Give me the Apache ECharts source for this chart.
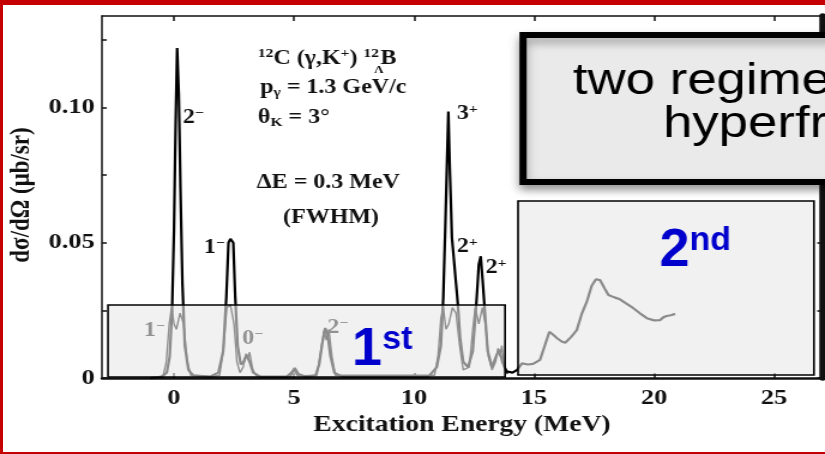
<!DOCTYPE html>
<html>
<head>
<meta charset="utf-8">
<script src="https://cdn.jsdelivr.net/npm/echarts@6/dist/echarts.min.js"></script>
<style>
  html, body { margin: 0; padding: 0; background: #fff; overflow: hidden; }
  /* the spectrum figure is shown stretched horizontally on the slide */
  #chart { position: absolute; left: 0; top: 0; width: 688px; height: 454px; transform: scaleX(1.19913); transform-origin: 0 0; }
  #frame { position: absolute; left: 0; top: 0; width: 825px; height: 454px; box-sizing: border-box;
           border-top: 5px solid #c40000; border-left: 3px solid #c40000; border-bottom: 2px solid #c40000;
           pointer-events: none; }
</style>
</head>
<body>
<div id="chart"></div>
<div id="frame"></div>
<script>
// horizontal stretch of the figure; the blue region tags undo it
const SX = 825 / 688;

// axis ticks
const energyTicks = [0, 5, 10, 15, 20, 25];
const sigmaTicks = [0, 0.025, 0.05, 0.075, 0.1, 0.125];
const sigmaLabels = [0, 0.05, 0.1];

// 12C(gamma,K+)12_Lambda B, dE = 0.3 MeV (FWHM): total spectrum
const totalEnergy = [
  -1.0, -0.5, -0.3, -0.18, -0.08, 0.0, 0.07, 0.13, 0.2, 0.27, 0.35, 0.45, 0.6, 0.8,
  1.5, 1.85, 2.05, 2.18, 2.27, 2.35, 2.47, 2.55, 2.65, 2.78, 2.9, 3.02, 3.15, 3.3, 3.6,
  4.7, 4.9, 5.03, 5.18, 5.5, 5.9, 6.05, 6.18, 6.3, 6.4, 6.52, 6.68, 7.0,
  10.6, 10.95, 11.12, 11.22, 11.3, 11.43, 11.5, 11.58, 11.66, 11.74, 11.82, 11.92, 12.05,
  12.25, 12.45, 12.6, 12.7, 12.78, 12.86, 12.95, 13.07, 13.25, 13.42, 13.55, 13.68, 13.85,
  14.1, 14.3, 14.5, 14.75, 14.96, 15.25, 15.45, 15.64, 15.8, 15.95, 16.15, 16.3, 16.55,
  16.78, 17.0, 17.2, 17.4, 17.58, 17.75, 17.95, 18.1, 18.35, 18.58, 18.85, 19.14, 19.4,
  19.7, 20.0, 20.25, 20.4, 20.53, 20.7, 20.88
];
const totalSigma = [
  0, 0.0005, 0.002, 0.008, 0.025, 0.055, 0.095, 0.122, 0.105, 0.07, 0.035, 0.012, 0.003, 0.001,
  0.0005, 0.002, 0.01, 0.03, 0.05, 0.0514, 0.05, 0.03, 0.012, 0.005, 0.006, 0.0085, 0.006, 0.002, 0.0005,
  0.0005, 0.002, 0.0037, 0.0015, 0.0005, 0.001, 0.005, 0.013, 0.0185, 0.016, 0.008, 0.002, 0.0005,
  0.0005, 0.004, 0.012, 0.03, 0.055, 0.0985, 0.075, 0.052, 0.044, 0.036, 0.028, 0.015, 0.006,
  0.004, 0.01, 0.028, 0.042, 0.045, 0.036, 0.025, 0.01, 0.004, 0.008, 0.0105, 0.006, 0.0025,
  0.002, 0.003, 0.0054, 0.005, 0.0052, 0.0067, 0.012, 0.0171, 0.016, 0.0148, 0.0135, 0.013, 0.0152,
  0.0177, 0.024, 0.0282, 0.034, 0.0365, 0.0362, 0.033, 0.0307, 0.0298, 0.0291, 0.0275, 0.0258, 0.024,
  0.0221, 0.0213, 0.0214, 0.0225, 0.0229, 0.0232, 0.0237
];

// low-lying components
const partEnergy = [
  -0.7, -0.45, -0.32, -0.2, -0.1, 0.0, 0.1, 0.25, 0.4, 0.55, 0.7,
  1.6, 1.9, 2.05, 2.2, 2.35, 2.5, 2.62, 2.75, 2.88, 3.0, 3.08, 3.15, 3.28, 3.45,
  4.85, 5.0, 5.15, 5.95, 6.12, 6.25, 6.35, 6.45, 6.58, 6.72,
  10.85, 11.0, 11.12, 11.22, 11.33, 11.45, 11.6, 11.75, 11.9, 12.05, 12.3, 12.45, 12.55,
  12.7, 12.85, 12.97, 13.1, 13.25, 13.4, 13.5, 13.58, 13.66, 13.76, 13.9
];
const partSigma = [
  0, 0.001, 0.006, 0.02, 0.026, 0.02, 0.018, 0.024, 0.02, 0.006, 0.001,
  0.0005, 0.001, 0.01, 0.026, 0.027, 0.02, 0.006, 0.002, 0.004, 0.009, 0.0075, 0.0095, 0.003, 0.0005,
  0.0005, 0.003, 0.0008, 0.001, 0.01, 0.0175, 0.014, 0.018, 0.008, 0.001,
  0.001, 0.008, 0.022, 0.026, 0.018, 0.02, 0.026, 0.024, 0.012, 0.003, 0.004, 0.018, 0.026,
  0.02, 0.026, 0.02, 0.008, 0.003, 0.006, 0.011, 0.008, 0.012, 0.004, 0.0015
];

const serif = '"Liberation Serif", "Times New Roman", serif';
const sans = '"Liberation Sans", Arial, sans-serif';

function pairs(xs, ys) { return xs.map((x, i) => [x, ys[i]]); }

// spin-parity tags near the peaks
function jp(x, y, j, p, z) {
  return {
    type: 'text', x: x, y: y, z: z,
    style: {
      text: '{n|' + j + '}{s|' + p + '}',
      fill: '#111', verticalAlign: 'middle',
      rich: {
        n: { font: 'bold 20px ' + serif, lineHeight: 22, fill: '#111' },
        s: { font: 'bold 13px ' + serif, lineHeight: 13, verticalAlign: 'top', fill: '#111' }
      }
    }
  };
}

const chart = echarts.init(document.getElementById('chart'));

const axisFont = { fontFamily: serif, fontWeight: 'bold', color: '#111' };
const boxFill = 'rgba(232,232,232,0.6)';

chart.setOption({
  animation: false,
  backgroundColor: '#fff',
  grid: { left: 85.06, right: 2.5, top: 16, bottom: 76 },
  xAxis: [{
    type: 'value', min: -3, max: 27,
    name: 'Excitation Energy (MeV)', nameLocation: 'middle', nameGap: 35,
    nameTextStyle: Object.assign({ fontSize: 23 }, axisFont),
    axisLine: { onZero: false, lineStyle: { color: '#111', width: 2.5 } },
    axisTick: { inside: true, length: 5, customValues: energyTicks, lineStyle: { color: '#111', width: 1.5 } },
    axisLabel: Object.assign({ fontSize: 22, margin: 9, customValues: energyTicks }, axisFont),
    splitLine: { show: false }
  }, {
    type: 'value', min: -3, max: 27, position: 'top',
    axisLine: { onZero: false, lineStyle: { color: '#111', width: 1.5 } },
    axisTick: { inside: true, length: 5, customValues: energyTicks, lineStyle: { color: '#111', width: 1.5 } },
    axisLabel: { show: false },
    splitLine: { show: false }
  }],
  yAxis: [{
    type: 'value', min: 0, max: 0.1338,
    axisLine: { onZero: false, lineStyle: { color: '#111', width: 1.5 } },
    axisTick: { inside: true, length: 4, customValues: sigmaTicks, lineStyle: { color: '#111', width: 1.5 } },
    axisLabel: Object.assign({
      fontSize: 22, margin: 6, customValues: sigmaLabels,
      formatter: v => (v === 0 ? '0' : v.toFixed(2))
    }, axisFont),
    splitLine: { show: false }
  }, {
    type: 'value', min: 0, max: 0.1338, position: 'right',
    axisLine: { onZero: false, lineStyle: { color: '#111', width: 5.5 } },
    axisTick: { inside: true, length: 4, customValues: sigmaTicks, lineStyle: { color: '#111', width: 1.5 } },
    axisLabel: { show: false },
    splitLine: { show: false }
  }],
  series: [{
    name: 'components', type: 'line', xAxisIndex: 0, yAxisIndex: 0,
    data: pairs(partEnergy, partSigma),
    showSymbol: false, smooth: false,
    lineStyle: { color: '#111', width: 1.4 }, z: 2
  }, {
    name: 'total', type: 'line', xAxisIndex: 0, yAxisIndex: 0,
    data: pairs(totalEnergy, totalSigma),
    showSymbol: false, smooth: false,
    lineStyle: { color: '#000', width: 2.2 }, z: 3
  }],
  graphic: [
    // vertical axis title
    { type: 'text', x: 18.3, y: 195, rotation: Math.PI / 2, z: 50, style: {
      text: 'dσ/dΩ (μb/sr)', font: 'bold 23px ' + serif, fill: '#111', align: 'center', verticalAlign: 'middle' } },

    // reaction and resolution notes
    { type: 'text', x: 215, y: 59, z: 50, style: {
      text: '{t|12}{m|C (γ,K}{t|+}{m|) }{t|12}{g| }{m|B}', verticalAlign: 'middle',
      rich: {
        m: { font: 'bold 20px ' + serif, lineHeight: 23, fill: '#111' },
        g: { font: 'bold 5px ' + serif, lineHeight: 23, fill: '#111' },
        t: { font: 'bold 13px ' + serif, lineHeight: 14, verticalAlign: 'top', fill: '#111' }
      } } },
    { type: 'text', x: 312, y: 70, z: 50, style: { text: 'Λ', font: 'bold 11px ' + serif, fill: '#111', verticalAlign: 'middle' } },
    { type: 'text', x: 217, y: 88, z: 50, style: {
      text: '{m|p}{b|γ}{m| = 1.3 GeV/c}', verticalAlign: 'middle',
      rich: {
        m: { font: 'bold 20px ' + serif, lineHeight: 23, fill: '#111' },
        b: { font: 'bold 13px ' + serif, lineHeight: 14, verticalAlign: 'bottom', fill: '#111' }
      } } },
    { type: 'text', x: 215, y: 118, z: 50, style: {
      text: '{m|θ}{b|K}{m| = 3°}', verticalAlign: 'middle',
      rich: {
        m: { font: 'bold 20px ' + serif, lineHeight: 23, fill: '#111' },
        b: { font: 'bold 13px ' + serif, lineHeight: 14, verticalAlign: 'bottom', fill: '#111' }
      } } },
    { type: 'text', x: 214, y: 183, z: 50, style: { text: 'ΔE = 0.3 MeV', font: 'bold 20px ' + serif, fill: '#111', verticalAlign: 'middle' } },
    { type: 'text', x: 236, y: 218, z: 50, style: { text: '(FWHM)', font: 'bold 20px ' + serif, fill: '#111', verticalAlign: 'middle' } },

    jp(152.5, 118, '2', '−', 50),
    jp(170, 248, '1', '−', 50),
    jp(381, 114, '3', '+', 50),
    jp(381, 247, '2', '+', 50),
    jp(405, 268, '2', '+', 50),
    jp(120, 331, '1', '−', 50),
    jp(202, 339, '0', '−', 50),
    jp(273, 328, '2', '−', 50),

    // translucent region boxes
    { type: 'rect', z: 100, shape: { x: 90.07, y: 305, width: 331.1, height: 72 },
      style: { fill: boxFill, stroke: '#000', lineWidth: 1.6 } },
    { type: 'rect', z: 100, shape: { x: 432, y: 201, width: 246.8, height: 174 },
      style: { fill: boxFill, stroke: '#000', lineWidth: 1.6 } },
    { type: 'text', x: 293.6, y: 350, z: 120, scaleX: 1 / SX, style: {
      text: '{a|1}{b|st}', verticalAlign: 'middle',
      rich: {
        a: { font: 'bold 54px ' + sans, lineHeight: 54, fill: '#0000cc' },
        b: { font: 'bold 34px ' + sans, lineHeight: 34, verticalAlign: 'top', fill: '#0000cc' }
      } } },
    { type: 'text', x: 550, y: 251, z: 120, scaleX: 1 / SX, style: {
      text: '{a|2}{b|nd}', verticalAlign: 'middle',
      rich: {
        a: { font: 'bold 54px ' + sans, lineHeight: 54, fill: '#0000cc' },
        b: { font: 'bold 34px ' + sans, lineHeight: 34, verticalAlign: 'top', fill: '#0000cc' }
      } } },

    // caption box
    { type: 'rect', z: 130, shape: { x: 436.2, y: 35, width: 300, height: 147 },
      style: { fill: '#eaeaea', stroke: '#000', lineWidth: 6,
               shadowBlur: 8, shadowOffsetY: 5, shadowColor: 'rgba(0,0,0,0.35)' } },
    { type: 'text', x: 477.8, y: 82, z: 140, style: { text: 'two regime', font: '44px ' + sans, fill: '#000', verticalAlign: 'middle' } },
    { type: 'text', x: 552.9, y: 125, z: 140, style: { text: 'hyperfr', font: '44px ' + sans, fill: '#000', verticalAlign: 'middle' } }
  ]
});
</script>
</body>
</html>
